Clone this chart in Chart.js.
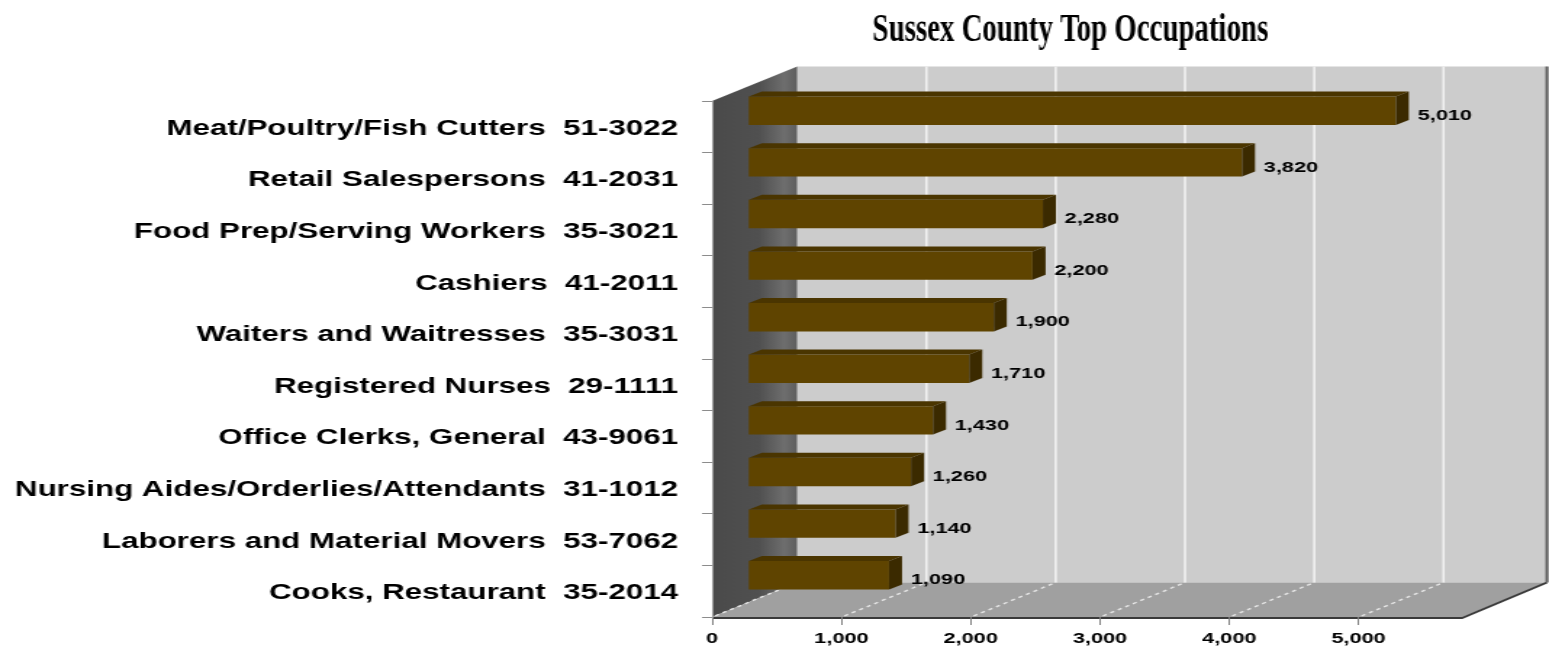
<!DOCTYPE html>
<html>
<head>
<meta charset="utf-8">
<title>Sussex County Top Occupations</title>
<script src="https://cdn.jsdelivr.net/npm/chart.js@4/dist/chart.umd.min.js"></script>
<style>
    html, body { margin: 0; padding: 0; background: #ffffff; overflow: hidden; }
</style>
</head>
<body>
<!-- canvas is drawn narrower and stretched sideways, like the original picture -->
<canvas id="occupationsChart" width="1068" height="648" style="display:block;width:1549px;height:648px"></canvas>
<script>
// Chart data
const chartTitle = 'Sussex County Top Occupations';
const occupations = [
    'Meat/Poultry/Fish Cutters  51-3022',
    'Retail Salespersons  41-2031',
    'Food Prep/Serving Workers  35-3021',
    'Cashiers  41-2011',
    'Waiters and Waitresses  35-3031',
    'Registered Nurses  29-1111',
    'Office Clerks, General  43-9061',
    'Nursing Aides/Orderlies/Attendants  31-1012',
    'Laborers and Material Movers  53-7062',
    'Cooks, Restaurant  35-2014'
];
const employment = [5010, 3820, 2280, 2200, 1900, 1710, 1430, 1260, 1140, 1090];
const xTicks = [0, 1000, 2000, 3000, 4000, 5000];
const xMax = 5800;

// 3D look (canvas units)
const box = { dx: 58.6, dy: -34.5 };      // depth of walls / floor
const barShift = { dx: 24.8, dy: -16 };   // bars sit halfway into the box
const barDepth = { dx: 9, dy: -5 };

const barFront = '#5f4400';
const barTop = '#4a3500';
const barSide = '#3b2a00';

// Format number with commas
function formatNumber(num) {
    return num.toString().replace(/\B(?=(\d{3})+(?!\d))/g, ",");
}

// Walls, floor and their grid lines
const boxPlugin = {
    id: 'box3d',
    beforeDraw(chart) {
        const ctx = chart.ctx;
        const { left, right, top, bottom } = chart.chartArea;
        const xScale = chart.scales.x;

        ctx.save();
        // back wall
        ctx.fillStyle = '#cccccc';
        ctx.fillRect(left + box.dx, top + box.dy, right - left, bottom - top);

        // left wall
        const grad = ctx.createLinearGradient(left, 0, left + box.dx, 0);
        grad.addColorStop(0, '#4a4a4a');
        grad.addColorStop(0.55, '#505050');
        grad.addColorStop(0.85, '#6e6e6e');
        grad.addColorStop(1, '#5e5e5e');
        ctx.fillStyle = grad;
        ctx.beginPath();
        ctx.moveTo(left, top);
        ctx.lineTo(left + box.dx, top + box.dy);
        ctx.lineTo(left + box.dx, bottom + box.dy);
        ctx.lineTo(left, bottom);
        ctx.closePath();
        ctx.fill();

        // floor
        ctx.fillStyle = '#a0a0a0';
        ctx.beginPath();
        ctx.moveTo(left, bottom);
        ctx.lineTo(left + box.dx, bottom + box.dy);
        ctx.lineTo(right + box.dx, bottom + box.dy);
        ctx.lineTo(right, bottom);
        ctx.closePath();
        ctx.fill();

        // grid lines on the back wall and floor
        xTicks.forEach(v => {
            const px = xScale.getPixelForValue(v);
            if (v > 0) {
                ctx.strokeStyle = '#f2f2f2';
                ctx.lineWidth = 1.6;
                ctx.setLineDash([]);
                ctx.beginPath();
                ctx.moveTo(px + box.dx, top + box.dy);
                ctx.lineTo(px + box.dx, bottom + box.dy);
                ctx.stroke();
            }
            ctx.strokeStyle = '#e6e6e6';
            ctx.lineWidth = 1.4;
            ctx.setLineDash([3, 3]);
            ctx.beginPath();
            ctx.moveTo(px + 2, bottom - 1);
            ctx.lineTo(px + box.dx, bottom + box.dy);
            ctx.stroke();
        });
        ctx.setLineDash([]);

        // edges
        ctx.strokeStyle = '#3a3a3a';
        ctx.lineWidth = 2;
        ctx.beginPath();
        ctx.moveTo(left, bottom + 1);
        ctx.lineTo(right, bottom + 1);
        ctx.lineTo(right + box.dx, bottom + box.dy);
        ctx.stroke();

        ctx.strokeStyle = '#5a5a5a';
        ctx.lineWidth = 2;
        ctx.beginPath();
        ctx.moveTo(right + box.dx, top + box.dy);
        ctx.lineTo(right + box.dx, bottom + box.dy);
        ctx.stroke();
        ctx.restore();
    },
    beforeDatasetsDraw(chart) {
        chart.ctx.save();
        chart.ctx.translate(barShift.dx, barShift.dy);
    },
    afterDatasetsDraw(chart) {
        const ctx = chart.ctx;
        const meta = chart.getDatasetMeta(0);
        meta.data.forEach((bar, i) => {
            const { x, y, base, height } = bar.getProps(['x', 'y', 'base', 'height'], true);
            const y0 = y - height / 2;
            const y1 = y + height / 2;

            // top face
            ctx.fillStyle = barTop;
            ctx.beginPath();
            ctx.moveTo(base, y0);
            ctx.lineTo(base + barDepth.dx, y0 + barDepth.dy);
            ctx.lineTo(x + barDepth.dx, y0 + barDepth.dy);
            ctx.lineTo(x, y0);
            ctx.closePath();
            ctx.fill();

            // side face
            ctx.fillStyle = barSide;
            ctx.beginPath();
            ctx.moveTo(x, y0);
            ctx.lineTo(x + barDepth.dx, y0 + barDepth.dy);
            ctx.lineTo(x + barDepth.dx, y1 + barDepth.dy);
            ctx.lineTo(x, y1);
            ctx.closePath();
            ctx.fill();

            // value label
            ctx.fillStyle = '#000000';
            ctx.font = 'bold 15px "Liberation Sans", Arial, sans-serif';
            ctx.textAlign = 'left';
            ctx.textBaseline = 'middle';
            ctx.fillText(formatNumber(employment[i]), x + barDepth.dx + 6, y + 5);
        });
        ctx.restore();
    },
    afterDraw(chart) {
        // title, narrow serif like the original
        const ctx = chart.ctx;
        ctx.save();
        ctx.translate(738, 41);
        ctx.scale(0.485, 1);
        ctx.fillStyle = '#000000';
        ctx.font = 'bold 41px "Liberation Serif", "Times New Roman", serif';
        ctx.textAlign = 'center';
        ctx.textBaseline = 'alphabetic';
        ctx.fillText(chartTitle, 0, 0);
        ctx.restore();
    }
};

// Initialize occupations chart
function initializeOccupationsChart() {
    const ctx = document.getElementById('occupationsChart');
    if (!ctx) return;

    const chart = new Chart(ctx, {
        type: 'bar',
        data: {
            labels: occupations,
            datasets: [{
                label: 'Employment',
                data: employment,
                backgroundColor: barFront,
                borderWidth: 0,
                barPercentage: 0.55,
                categoryPercentage: 1,
                clip: false
            }]
        },
        options: {
            indexAxis: 'y',
            responsive: false,
            animation: false,
            layout: {
                padding: { left: 0, right: 60, top: 101, bottom: 0 }
            },
            scales: {
                x: {
                    min: 0,
                    max: xMax,
                    afterFit: scale => { scale.height = 31; },
                    afterBuildTicks: scale => {
                        scale.ticks = xTicks.map(v => ({ value: v }));
                    },
                    ticks: {
                        color: '#000000',
                        padding: 5,
                        font: { family: '"Liberation Sans", Arial, sans-serif', size: 15, weight: 'bold' },
                        callback: value => formatNumber(value)
                    },
                    grid: {
                        drawOnChartArea: false,
                        drawTicks: true,
                        tickLength: 8,
                        color: '#808080'
                    },
                    border: { display: false }
                },
                y: {
                    afterFit: scale => { scale.width = 491; },
                    ticks: {
                        color: '#000000',
                        padding: 16.5,
                        labelOffset: 2,
                        font: { family: '"Liberation Sans", Arial, sans-serif', size: 21.6, weight: 'bold' }
                    },
                    grid: {
                        drawOnChartArea: false,
                        drawTicks: true,
                        tickLength: 7,
                        color: '#8c8c8c'
                    },
                    border: { display: true, color: '#9a9a9a', width: 1 }
                }
            },
            plugins: {
                legend: { display: false },
                title: { display: false },
                tooltip: { enabled: false }
            }
        },
        plugins: [boxPlugin]
    });
}

// Initialize when the document is ready
document.addEventListener('DOMContentLoaded', initializeOccupationsChart);
</script>
</body>
</html>
